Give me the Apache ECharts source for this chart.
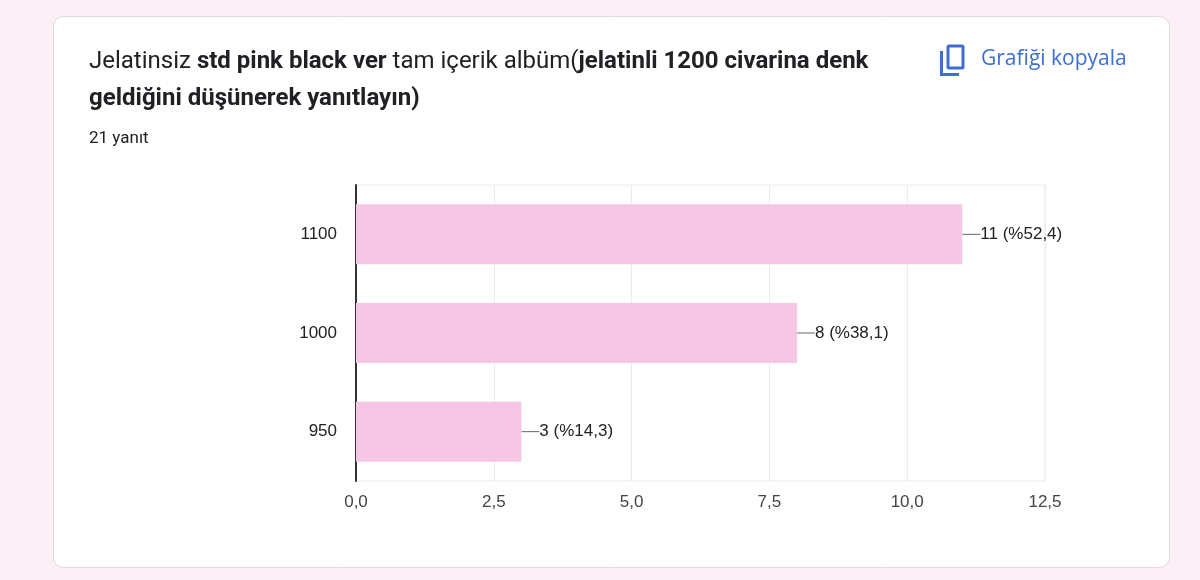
<!DOCTYPE html>
<html>
<head>
<meta charset="utf-8">
<script src="https://cdn.jsdelivr.net/npm/echarts@6/dist/echarts.min.js"></script>
<style>
  html, body { margin: 0; padding: 0; background: #fcf0f6; }
  #chart { width: 1200px; height: 580px; }
</style>
</head>
<body>
<div id="chart"></div>
<script>
const categories = ['1100', '1000', '950'];
const counts = [11, 8, 3];
const percents = ['52,4', '38,1', '14,3'];
const xTicks = { min: 0, max: 12.5, interval: 2.5 };

const chart = echarts.init(document.getElementById('chart'), null, { renderer: 'canvas' });

const iconColor = '#3c6fcf';
const labelFont = { fontFamily: 'Liberation Sans', fontSize: 17 };

const option = {
    animation: false,
    backgroundColor: '#fcf0f6',
    graphic: [
        // the card
        {
            type: 'rect',
            z: -10,
            shape: { x: 53.5, y: 16.5, width: 1116, height: 551, r: 10 },
            style: { fill: '#ffffff', stroke: '#dedadd', lineWidth: 1 },
        },
        // copy icon: back sheet + front sheet
        {
            type: 'polyline',
            shape: { points: [[941.5, 51], [941.5, 74.5], [959, 74.5]] },
            style: { stroke: iconColor, lineWidth: 3, fill: null },
        },
        {
            type: 'rect',
            shape: { x: 948, y: 46, width: 15, height: 22, r: 1 },
            style: { stroke: iconColor, lineWidth: 3, fill: null },
        },
        {
            type: 'text',
            x: 981,
            y: 59,
            style: {
                text: 'Grafiği kopyala',
                fill: iconColor,
                font: '500 21px "Open Sans", sans-serif',
                verticalAlign: 'middle',
            },
        },
        {
            type: 'text',
            x: 89,
            y: 139,
            style: {
                text: '21 yanıt',
                fill: '#202124',
                font: '17px Roboto, sans-serif',
                verticalAlign: 'middle',
            },
        },
    ],
    title: {
        left: 89,
        top: 43,
        padding: 0,
        text: '{n|Jelatinsiz }{b|std pink black ver}{n| tam içerik albüm(}{b|jelatinli 1200 civarina denk}\n{b|geldiğini düşünerek yanıtlayın)}',
        textStyle: {
            rich: {
                n: { fontFamily: 'Roboto', fontSize: 24, fontWeight: 'normal', color: '#202124', lineHeight: 37 },
                b: { fontFamily: 'Roboto', fontSize: 24, fontWeight: 'bold', color: '#202124', lineHeight: 37 },
            },
        },
    },
    grid: {
        left: 356,
        right: 155,
        top: 185,
        bottom: 99,
        show: true,
        borderColor: '#ebebeb',
        borderWidth: 1,
        backgroundColor: 'transparent',
    },
    xAxis: {
        type: 'value',
        min: xTicks.min,
        max: xTicks.max,
        interval: xTicks.interval,
        axisLine: { show: false },
        axisTick: { show: false },
        splitLine: { show: true, lineStyle: { color: '#ebebeb', width: 1 } },
        axisLabel: {
            margin: 13,
            color: '#444444',
            ...labelFont,
            formatter: (v) => v.toFixed(1).replace('.', ','),
        },
    },
    yAxis: {
        type: 'category',
        inverse: true,
        data: categories,
        axisLine: { show: true, lineStyle: { color: '#333333', width: 2 } },
        axisTick: { show: false },
        splitLine: { show: false },
        axisLabel: {
            margin: 19,
            color: '#222222',
            ...labelFont,
        },
    },
    series: [
        {
            type: 'bar',
            data: counts,
            barWidth: 60,
            itemStyle: { color: '#f5c7e5' },
            label: {
                show: true,
                position: 'right',
                distance: 0,
                color: '#222222',
                ...labelFont,
                formatter: (p) => p.value + ' (%' + percents[p.dataIndex] + ')',
            },
            labelLayout: { dx: 18 },
            labelLine: { show: true, lineStyle: { color: '#666666', width: 1 } },
        },
    ],
};

chart.setOption(option);
</script>
</body>
</html>
